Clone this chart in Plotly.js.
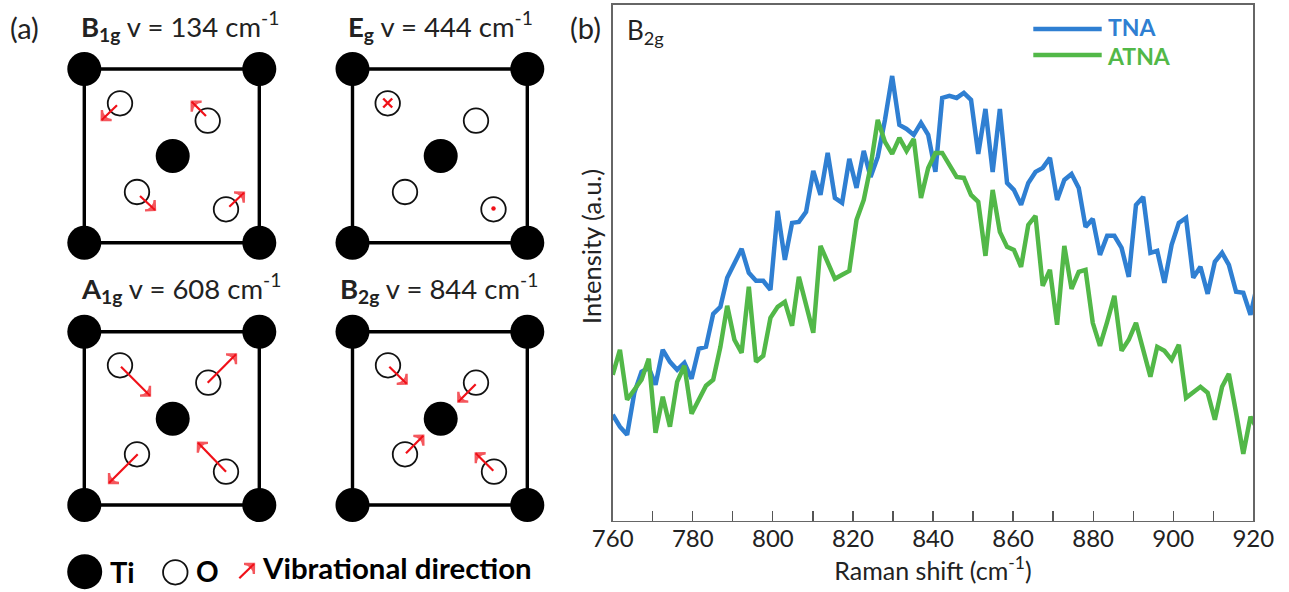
<!DOCTYPE html>
<html><head><meta charset="utf-8">
<script src="https://cdn.plot.ly/plotly-3.0.1.min.js"></script>
<style>html,body{margin:0;padding:0;background:#fff}#c{width:1289px;height:592px}</style>
</head><body><div id="c"></div>
<script>
const ramanShift=[760.0,761.8,763.6,765.4,767.2,769.0,770.7,772.5,774.3,776.1,777.9,779.7,781.5,783.3,785.1,786.9,788.6,790.4,792.2,794.0,795.8,797.6,799.4,801.2,803.0,804.8,806.5,808.3,810.1,811.9,813.7,815.5,817.3,819.1,820.9,822.7,824.4,826.2,828.0,829.8,831.6,833.4,835.2,837.0,838.8,840.6,842.3,844.1,845.9,847.7,849.5,851.3,853.1,854.9,856.7,858.5,860.2,862.0,863.8,865.6,867.4,869.2,871.0,872.8,874.6,876.4,878.1,879.9,881.7,883.5,885.3,887.1,888.9,890.7,892.5,894.3,896.0,897.8,899.6,901.4,903.2,905.0,906.8,908.6,910.4,912.2,913.9,915.7,917.5,919.3,921.1];
const tna=[106,94,86,128,149,153,136,171,159,151,158,142,172,174,207,214,243,258,272,248,240,240,231,310,261,298,299,309,350,326,368,323,318,362,333,370,344,364,401,445,396,392,386,398,386,349,423,425,423,428,421,367,412,349,412,338,331,316,338,349,353,363,321,341,347,333,294,302,266,285,285,273,244,316,324,268,270,238,276,298,303,243,254,227,259,268,256,229,228,206,238];
const atna=[146,171,121,131,141,162,88,124,94,139,155,107,121,135,141,174,215,181,168,234,159,165,203,214,219,195,244,214,188,275,258,242,246,250,301,321,354,401,379,367,383,370,382,323,353,368,368,356,344,343,326,319,265,331,289,274,271,254,296,305,235,251,196,275,232,249,251,198,175,199,225,170,181,198,173,144,174,170,161,176,123,129,134,128,101,134,147,108,67,104,91];
const tickVals=[760,780,800,820,840,860,880,900,920];
const tickText=['760','780','800','820','840','860','880','900','920'];

// schematic: cell corners, centre atoms, oxygen atoms, arrows [x0,y0,x1,y1]
const cellLeft=[84.3,352.5], cellRight=[259.3,527.3], cellTop=[69,331.7], cellBottom=[242.7,505];
const tiX=[84.3,259.3,84.3,259.3,172.7,352.5,527.3,352.5,527.3,440.7,84.3,259.3,84.3,259.3,172.7,352.5,527.3,352.5,527.3,440.7];
const tiY=[69,69,242.7,242.7,156,69,69,242.7,242.7,156,331.7,331.7,505,505,418.7,331.7,331.7,505,505,418.7];
const oX=[120,207.7,137,226,387.7,476,405,493.5,120,208.3,137,226,388,476,405,494];
const oY=[103.3,120.7,192,209.3,103.3,120.7,192,209.3,365.3,382.7,454.3,471.7,365.3,382.7,454.3,471.7];
const arrows=[
 [117,105.3,101.7,120],[206,116,191.7,101.7],[140,196,155,210],[229.3,206.7,244,192.7],
 [121,366.7,150,395.7],[207.7,382.7,236,354.3],[137.7,454.3,109,483],[226,471.7,198,442.7],
 [389.3,366.7,406.7,383.7],[475.7,384.3,458.3,401.7],[406,453.3,423.3,435.7],[493.3,470.7,475.7,453.3],
 [239.3,578.3,254,564]];
const legendLineX=[1033.3,1101.7], tnaLegendY=[29,29], atnaLegendY=[55,55];
const headers=[
 ['<b>B</b><sub><b>1g</b></sub> v = 134 cm<sup>-1</sup>',79,26],
 ['<b>E</b><sub><b>g</b></sub> v = 444 cm<sup>-1</sup>',346,26],
 ['<b>A</b><sub><b>1g</b></sub> v = 608 cm<sup>-1</sup>',79,288],
 ['<b>B</b><sub><b>2g</b></sub> v = 844 cm<sup>-1</sup>',338,288]];

const FONT='Lato, "Open Sans", sans-serif', INK='#222222', RED='#f01018';
const BLUE='#2f7fd2', GREEN='#52b848';
const ov={xaxis:'x2',yaxis:'y2',hoverinfo:'skip',showlegend:false};
const traces=[
 {name:'TNA',x:ramanShift,y:tna,mode:'lines',line:{color:BLUE,width:4.5},showlegend:false},
 {name:'ATNA',x:ramanShift,y:atna,mode:'lines',line:{color:GREEN,width:4.5},showlegend:false}
];
[0,1].forEach(i=>[0,1].forEach(j=>{
 traces.push({...ov,mode:'lines',line:{color:'#000',width:3.4},
  x:[cellLeft[i],cellRight[i],cellRight[i],cellLeft[i],cellLeft[i]],
  y:[cellTop[j],cellTop[j],cellBottom[j],cellBottom[j],cellTop[j]]});
}));
traces.push({...ov,mode:'markers',x:tiX,y:tiY,marker:{size:34,color:'#000'}});
traces.push({...ov,mode:'markers',x:oX,y:oY,marker:{size:24.5,color:'#fff',line:{color:'#111',width:1.8}}});
traces.push({...ov,mode:'markers',x:[84.7],y:[571.7],marker:{size:35,color:'#000'}});
traces.push({...ov,mode:'markers',x:[175.3],y:[572.3],marker:{size:24.5,color:'#fff',line:{color:'#111',width:1.8}}});
traces.push({...ov,mode:'markers',x:[387.7],y:[103],marker:{symbol:'x-thin',size:9,line:{color:RED,width:2.4}}});
traces.push({...ov,mode:'markers',x:[493.5],y:[208.5],marker:{size:4.5,color:RED}});
traces.push({...ov,mode:'lines',x:legendLineX,y:tnaLegendY,line:{color:BLUE,width:4.5}});
traces.push({...ov,mode:'lines',x:legendLineX,y:atnaLegendY,line:{color:GREEN,width:4.5}});
arrows.forEach(a=>traces.push({...ov,mode:'lines+markers',x:[a[0],a[2]],y:[a[1],a[3]],line:{color:RED,width:2.2},
 marker:{symbol:['circle','arrow-wide-open'],size:[0,10],angleref:'previous',color:RED,line:{color:RED,width:2.3}}}));

const note=(text,x,y,size,color,extra)=>Object.assign({text,x,y,xref:'x2',yref:'y2',xanchor:'left',yanchor:'middle',
 showarrow:false,font:{family:FONT,size,color:color||INK}},extra||{});
const anns=[];
headers.forEach(h=>anns.push(note(h[0],h[1],h[2],27.5)));
anns.push(note('(a)',8,27,29));
anns.push(note('(b)',568,27,29));
anns.push(note('B<sub>2g</sub>',625,31,26));
anns.push(note('<b>TNA</b>',1106,27,23,BLUE));
anns.push(note('<b>ATNA</b>',1105,56,23,GREEN));
anns.push(note('<b>Ti</b>',108,571,29,'#000'));
anns.push(note('<b>O</b>',194,571,28,'#000'));
anns.push(note('<b>Vibrational direction</b>',260,567,29.4,'#000'));
anns.push(note('Intensity (a.u.)',591,247,25.5,INK,{textangle:-90,xanchor:'center',yanchor:'middle'}));

const W=1289,H=592;
const layout={width:W,height:H,margin:{l:0,r:0,t:0,b:0},paper_bgcolor:'#fff',plot_bgcolor:'rgba(0,0,0,0)',showlegend:false,
 font:{family:FONT,color:INK},
 xaxis:{domain:[612.7/W,1253.3/W],range:[760,920],tickmode:'array',tickvals:tickVals,ticktext:tickText,ticks:'inside',ticklen:10,tickwidth:1.3,tickcolor:'#555',
  minor:{dtick:10,tick0:760,ticks:'inside',ticklen:10,tickwidth:1.3,tickcolor:'#555',showgrid:false},ticklabelstandoff:-4,
  showgrid:false,zeroline:false,showline:true,linecolor:'#666',linewidth:1.6,mirror:true,tickangle:0,tickfont:{family:FONT,size:24,color:INK},
  title:{text:'Raman shift (cm<sup>-1</sup>)',font:{family:FONT,size:25,color:INK},standoff:5}},
 yaxis:{domain:[1-520.7/H,1-4.5/H],range:[0,516.5],showticklabels:false,ticks:'',showgrid:false,zeroline:false,showline:true,linecolor:'#666',linewidth:1.6,mirror:true},
 xaxis2:{domain:[0,1],range:[0,W],visible:false,anchor:'y2',fixedrange:true},
 yaxis2:{domain:[0,1],range:[H,0],visible:false,anchor:'x2',fixedrange:true},
 annotations:anns};
Plotly.newPlot('c',traces,layout,{displayModeBar:false,staticPlot:true});
</script></body></html>
